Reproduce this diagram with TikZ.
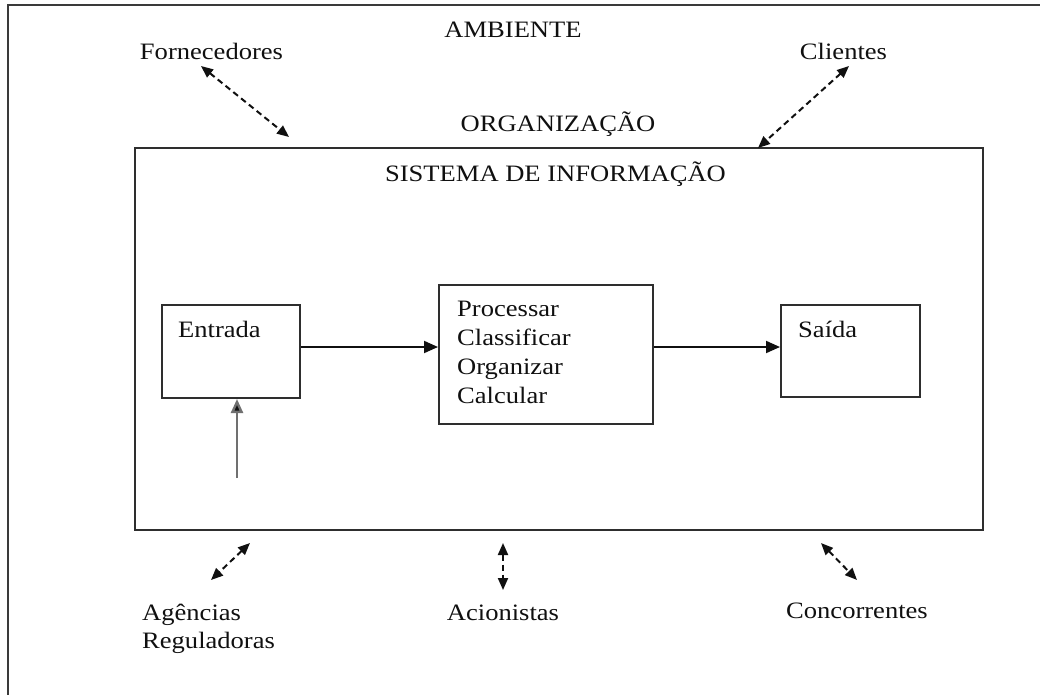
\documentclass[tikz,border=0pt]{standalone}
\usepackage{fontspec}
\setmainfont{Liberation Serif}[FakeStretch=1.13]
\usetikzlibrary{arrows.meta}

\definecolor{ink}{HTML}{101010}
\definecolor{rule}{HTML}{2E2E2E}
\definecolor{frame}{HTML}{3A3A3A}
\definecolor{feed}{HTML}{707070}

\tikzset{
  lbl/.style={inner sep=0pt, text=ink, font=\fontsize{23.5}{29}\selectfont},
  blockbox/.style={draw=rule, line width=2pt, inner sep=0pt, fill=none},
  flow/.style={draw=ink, line width=1.9pt, -{Triangle[length=14pt,width=12pt]}},
  feedflow/.style={draw=feed, line width=2.4pt, -{Triangle[length=14pt,width=12pt,fill=ink]}},
  envlink/.style={draw=ink, line width=2pt, dash pattern=on 6pt off 4pt,
    {Triangle[length=12pt,width=10pt]}-{Triangle[length=12pt,width=10pt]}}
}

\begin{document}
\begin{tikzpicture}[x=1pt, y=-1pt]
  \useasboundingbox (0,0) rectangle (1040,695);

  % environment frame (left and top edges)
  \draw[frame, line width=2.6pt] (8,695) -- (8,5) -- (1040,5);

  % environment labels
  \node[lbl, anchor=base] (ambiente) at (513,38) {AMBIENTE};
  \node[lbl, anchor=base] (fornec) at (211.5,60) {Fornecedores};
  \node[lbl, anchor=base] (clientes) at (843.5,60) {Clientes};
  \node[lbl, anchor=base] (org) at (558,132) {ORGANIZAÇÃO};

  % information system boundary
  \node[blockbox, minimum width=848pt, minimum height=382pt] (sis) at (559,339) {};
  \node[lbl, anchor=base] (sistitle) at (555.5,182) {SISTEMA DE INFORMAÇÃO};

  % input, processing and output blocks
  \node[blockbox, minimum width=138pt, minimum height=93pt] (entrada) at (231,351.5) {};
  \node[blockbox, minimum width=214pt, minimum height=139pt] (proc) at (546,354.5) {};
  \node[blockbox, minimum width=139pt, minimum height=92pt] (saida) at (850.5,351) {};

  \node[lbl, anchor=base west] (entradatxt) at (178,337) {Entrada};
  \node[lbl, anchor=base west] (proc1) at (457,316) {Processar};
  \node[lbl, anchor=base west] (proc2) at (457,345) {Classificar};
  \node[lbl, anchor=base west] (proc3) at (457,374) {Organizar};
  \node[lbl, anchor=base west] (proc4) at (457,403) {Calcular};
  \node[lbl, anchor=base west] (saidatxt) at (798,337) {Saída};

  % data flow
  \coordinate (flowrow) at (0,347);
  \draw[flow] (entrada.east |- flowrow) -- (proc.west |- flowrow);
  \draw[flow] (proc.east |- flowrow) -- (saida.west |- flowrow);
  \coordinate (feedfoot) at (237,478);
  \draw[feedflow] (feedfoot) -- (feedfoot |- entrada.south);

  % external agents below
  \node[lbl, anchor=base west] (agencias) at (142,620) {Agências};
  \node[lbl, anchor=base west] (regul) at (142,648) {Reguladoras};
  \node[lbl, anchor=base] (acion) at (503,620) {Acionistas};
  \node[lbl, anchor=base] (concor) at (857,618) {Concorrentes};

  % exchanges between the environment and the organization
  \coordinate (fornA) at (201,66);   \coordinate (fornB) at (289,137);
  \coordinate (cliA) at (849,66);    \coordinate (cliB) at (758,148);
  \coordinate (agA) at (250,543);    \coordinate (agB) at (211,580);
  \coordinate (acA) at (503,543);    \coordinate (acB) at (503,590);
  \coordinate (coA) at (821,543);    \coordinate (coB) at (857,580);

  \draw[envlink] (fornA) -- (fornB);
  \draw[envlink] (cliA) -- (cliB);
  \draw[envlink] (agA) -- (agB);
  \draw[envlink] (acA) -- (acB);
  \draw[envlink] (coA) -- (coB);
\end{tikzpicture}
\end{document}
